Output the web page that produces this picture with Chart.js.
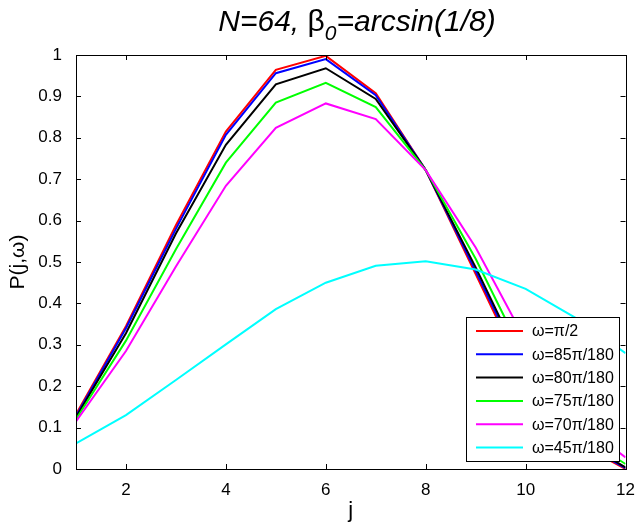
<!DOCTYPE html>
<html>
<head>
<meta charset="utf-8">
<script src="https://cdn.jsdelivr.net/npm/chart.js@4"></script>
<style>
  body { margin: 0; background: #fff; }
  #wrap { width: 638px; height: 527px; }
</style>
</head>
<body>
<div id="wrap"><canvas id="myChart" width="638" height="527"></canvas></div>
<script>
// j values and tick labels
const jValues = [1, 2, 3, 4, 5, 6, 7, 8, 9, 10, 11, 12];
const xTicks = [2, 4, 6, 8, 10, 12];
const yTicks = [0, 0.1, 0.2, 0.3, 0.4, 0.5, 0.6, 0.7, 0.8, 0.9, 1];

// P(j, w) for each omega
const pOmega90 = [0.132, 0.345, 0.589, 0.815, 0.964, 0.998, 0.908, 0.722, 0.471, 0.218, 0.065, 0.0];
const pOmega85 = [0.128, 0.340, 0.580, 0.807, 0.956, 0.990, 0.903, 0.722, 0.478, 0.229, 0.070, 0.002];
const pOmega80 = [0.125, 0.328, 0.569, 0.783, 0.929, 0.968, 0.894, 0.722, 0.487, 0.236, 0.075, 0.004];
const pOmega75 = [0.120, 0.310, 0.531, 0.740, 0.885, 0.933, 0.874, 0.722, 0.508, 0.264, 0.090, 0.012];
const pOmega70 = [0.115, 0.285, 0.489, 0.684, 0.824, 0.883, 0.845, 0.722, 0.535, 0.310, 0.120, 0.028];
const pOmega45 = [0.062, 0.130, 0.215, 0.301, 0.386, 0.450, 0.491, 0.502, 0.482, 0.435, 0.365, 0.280];

const seriesLabels = ["\u03c9=\u03c0/2", "\u03c9=85\u03c0/180", "\u03c9=80\u03c0/180",
                      "\u03c9=75\u03c0/180", "\u03c9=70\u03c0/180", "\u03c9=45\u03c0/180"];
const seriesValues = [pOmega90, pOmega85, pOmega80, pOmega75, pOmega70, pOmega45];
const seriesColors = ['#ff0000', '#0000ff', '#000000', '#00ff00', '#ff00ff', '#00ffff'];

const FONT = '"Liberation Sans", Arial, sans-serif';

// box, inward ticks, title with subscript, legend inside the axes
const matlabLook = {
    id: 'matlabLook',
    afterDatasetsDraw(chart) {
        const ctx = chart.ctx;
        const a = chart.chartArea;
        const xs = chart.scales.x, ys = chart.scales.y;
        ctx.save();
        ctx.strokeStyle = '#000';
        ctx.lineWidth = 1;
        ctx.beginPath();
        xTicks.forEach(v => {
            const px = Math.round(xs.getPixelForValue(v)) + 0.5;
            ctx.moveTo(px, a.bottom); ctx.lineTo(px, a.bottom - 5);
            ctx.moveTo(px, a.top); ctx.lineTo(px, a.top + 5);
        });
        yTicks.forEach(v => {
            const py = Math.round(ys.getPixelForValue(v)) + 0.5;
            ctx.moveTo(a.left, py); ctx.lineTo(a.left + 5, py);
            ctx.moveTo(a.right, py); ctx.lineTo(a.right - 5, py);
        });
        ctx.stroke();
        ctx.strokeRect(Math.round(a.left) + 0.5, Math.round(a.top) + 0.5,
                       Math.round(a.right - a.left), Math.round(a.bottom - a.top));

        // legend
        const lx = 466, ly = 317, lw = 153, lh = 144;
        ctx.fillStyle = '#fff';
        ctx.fillRect(lx, ly, lw, lh);
        ctx.strokeRect(lx + 0.5, ly + 0.5, lw, lh);
        ctx.font = '16px ' + FONT;
        ctx.textBaseline = 'middle';
        ctx.textAlign = 'left';
        chart.data.datasets.forEach((ds, i) => {
            const cy = ly + 14 + i * 23.3;
            ctx.strokeStyle = ds.borderColor;
            ctx.lineWidth = 2;
            ctx.beginPath();
            ctx.moveTo(476, cy); ctx.lineTo(523, cy);
            ctx.stroke();
            ctx.fillStyle = '#000';
            ctx.fillText(ds.label, 532, cy + 1);
        });

        // title: N=64, beta_0=arcsin(1/8)
        const parts = [
            { t: 'N=64, ', f: 'italic 30px ' + FONT, dy: 0 },
            { t: '\u03b2', f: '30px ' + FONT, dy: 0 },
            { t: '0', f: 'italic 21px ' + FONT, dy: 9 },
            { t: '=arcsin(1/8)', f: 'italic 30px ' + FONT, dy: 0 }
        ];
        let total = 0;
        parts.forEach(p => { ctx.font = p.f; p.w = ctx.measureText(p.t).width; total += p.w; });
        let x = 357 - total / 2;
        ctx.fillStyle = '#000';
        ctx.textBaseline = 'alphabetic';
        parts.forEach(p => {
            ctx.font = p.f;
            ctx.fillText(p.t, x, 31 + p.dy);
            x += p.w;
        });
        ctx.restore();
    }
};

new Chart(document.getElementById("myChart"), {
    type: 'line',
    data: {
        datasets: seriesValues.map((vals, i) => ({
            label: seriesLabels[i],
            data: vals.map((v, k) => ({ x: jValues[k], y: v })),
            borderColor: seriesColors[i],
            backgroundColor: seriesColors[i],
            borderWidth: 2,
            pointRadius: 0,
            tension: 0,
            order: seriesValues.length - i
        }))
    },
    options: {
        responsive: false,
        animation: false,
        layout: { padding: { top: 55, right: 10, left: 0, bottom: 0 } },
        plugins: {
            legend: { display: false },
            tooltip: { enabled: false }
        },
        scales: {
            x: {
                type: 'linear',
                min: 1, max: 12,
                afterBuildTicks: s => { s.ticks = xTicks.map(v => ({ value: v })); },
                afterFit: s => { s.height = 58; },
                grid: { display: false },
                border: { display: false },
                ticks: { color: '#000', font: { family: FONT, size: 17 }, padding: 3, maxRotation: 0 },
                title: { display: true, text: 'j', color: '#000', font: { family: FONT, size: 22 }, padding: { top: 0, bottom: 3 } }
            },
            y: {
                min: 0, max: 1,
                afterBuildTicks: s => { s.ticks = yTicks.map(v => ({ value: v })); },
                afterFit: s => { s.width = 76; },
                grid: { display: false },
                border: { display: false },
                ticks: {
                    color: '#000', font: { family: FONT, size: 17 }, padding: 6,
                    callback: v => String(Math.round(v * 10) / 10)
                },
                title: { display: true, text: 'P(j,\u03c9)', color: '#000', font: { family: FONT, size: 21 }, padding: { top: 6, bottom: 4 } }
            }
        }
    },
    plugins: [matlabLook]
});
</script>
</body>
</html>
